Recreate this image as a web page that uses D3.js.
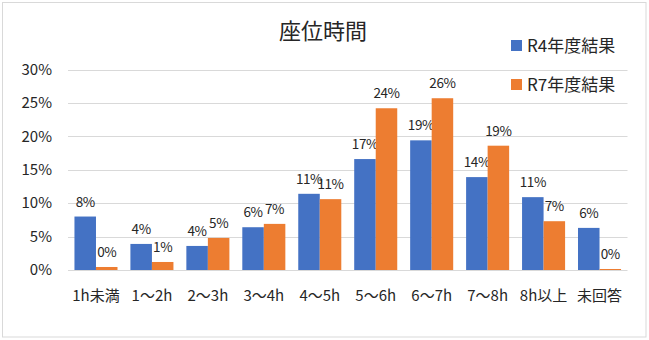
<!DOCTYPE html>
<html><head><meta charset="utf-8">
<script src="https://cdn.jsdelivr.net/npm/d3@7"></script>
<style>
html,body{margin:0;padding:0;background:#fff;}
svg text{font-family:"Noto Sans CJK JP","Noto Sans",sans-serif;fill:#262626;}
</style></head>
<body><svg id="c" width="649" height="340"></svg>
<script>
const categories = ["1h未満","1～2h","2～3h","3～4h","4～5h","5～6h","6～7h","7～8h","8h以上","未回答"];
const seriesNames = ["R4年度結果","R7年度結果"];
const r4Values = [8.0,3.9,3.6,6.4,11.4,16.6,19.4,13.9,10.9,6.3];
const r7Values = [0.45,1.2,4.8,6.9,10.6,24.2,25.7,18.6,7.3,0.15];
const yTicks = [0,5,10,15,20,25,30];
const colors = ["#4472C4","#ED7D31"];
const title = "座位時間";

const svg = d3.select("#c");
svg.append("rect").attr("x",2.5).attr("y",2.5).attr("width",643.5).attr("height",334.5)
  .attr("fill","#fff").attr("stroke","#D9D9D9").attr("stroke-width",1);

const L=68,R=627.5,T=69.5,B=270;
const x = d3.scaleBand().domain(categories).range([L,R]).padding(0);
const bw = x.bandwidth()/2.6;
const x1 = d3.scaleBand().domain(seriesNames).range([0,2*bw]);
const y = d3.scaleLinear().domain([0,30]).range([B,T]);

svg.append("g").selectAll("line").data(yTicks).join("line")
  .attr("x1",L).attr("x2",R).attr("y1",d=>Math.round(y(d))+0.5).attr("y2",d=>Math.round(y(d))+0.5)
  .attr("stroke","#D9D9D9").attr("stroke-width",1);

const yAxis = d3.axisLeft(y).tickValues(yTicks).tickFormat(d=>d+"%").tickSize(0).tickPadding(0);
const ga = svg.append("g").attr("transform",`translate(${L-16},0)`).call(yAxis);
ga.select(".domain").remove();
ga.selectAll("text").attr("font-size",15).attr("fill","#262626").style("font-family",'"Noto Sans CJK JP",sans-serif');

const xAxis = d3.axisBottom(x).tickSize(0).tickPadding(0);
const gx = svg.append("g").attr("transform",`translate(0,${B+20})`).call(xAxis);
gx.select(".domain").remove();
gx.selectAll("text").attr("font-size",15).attr("fill","#262626").style("font-family",'"Noto Sans CJK JP",sans-serif');

const series = [r4Values, r7Values];
series.forEach((vals,si)=>{
  const g = svg.append("g");
  const off = (x.bandwidth()-2*bw)/2 + x1(seriesNames[si]);
  g.selectAll("rect").data(vals).join("rect")
    .attr("x",(d,i)=>x(categories[i])+off)
    .attr("y",d=>y(d)).attr("width",bw).attr("height",d=>B-y(d))
    .attr("fill",colors[si]);
  g.selectAll("text").data(vals).join("text")
    .attr("x",(d,i)=>x(categories[i])+off+bw/2)
    .attr("y",d=>y(d)-10)
    .attr("text-anchor","middle").attr("font-size",13.5)
    .attr("letter-spacing",-0.4)
    .text(d=>Math.round(d)+"%");
});

svg.append("text").attr("x",323).attr("y",39).attr("text-anchor","middle")
  .attr("font-size",22).text(title);

const lg = svg.append("g");
seriesNames.forEach((n,i)=>{
  const cy = 46 + i*39;
  lg.append("rect").attr("x",511).attr("y",cy-6).attr("width",11).attr("height",11).attr("fill",colors[i]);
  lg.append("text").attr("x",527).attr("y",cy+6).attr("font-size",17).text(n);
});
</script></body></html>
